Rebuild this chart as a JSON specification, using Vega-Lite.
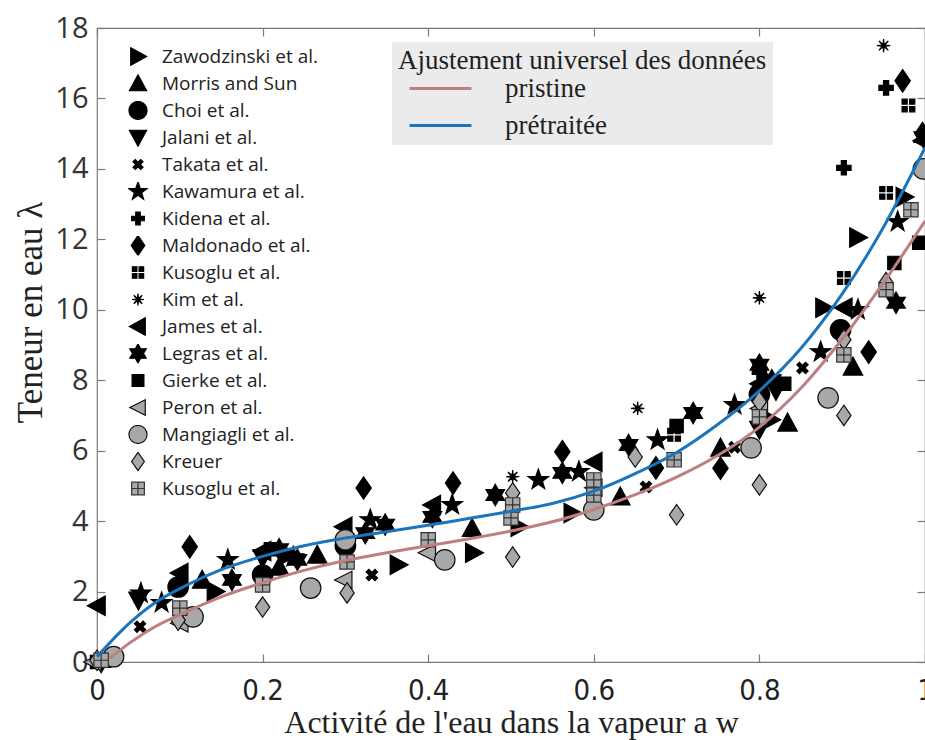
{
  "$schema": "https://vega.github.io/schema/vega-lite/v6.json",
  "width": 828,
  "height": 634,
  "autosize": "none",
  "padding": {"left": 97, "top": 28, "right": 0, "bottom": 78},
  "background": "white",
  "config": {
    "view": {"stroke": "#7a7a7a", "strokeWidth": 1.2},
    "axis": {"grid": false, "domain": false, "tickColor": "#7a7a7a", "tickWidth": 1.2, "tickSize": -8, "labelColor": "#222", "titleColor": "#222", "titleFontWeight": "normal", "labelFlush": false}
  },
  "datasets": {
    "pts": [
      {"series":"Zawodzinski et al.","aw":0.143,"lambda":2.0},{"series":"Zawodzinski et al.","aw":0.364,"lambda":2.76},{"series":"Zawodzinski et al.","aw":0.455,"lambda":3.1},{"series":"Zawodzinski et al.","aw":0.51,"lambda":3.84},{"series":"Zawodzinski et al.","aw":0.574,"lambda":4.23},{"series":"Zawodzinski et al.","aw":0.814,"lambda":6.88},{"series":"Zawodzinski et al.","aw":0.878,"lambda":10.06},{"series":"Zawodzinski et al.","aw":0.919,"lambda":12.05},{"series":"Zawodzinski et al.","aw":0.975,"lambda":13.2},{"series":"Zawodzinski et al.","aw":0.232,"lambda":3.05},
      {"series":"Morris and Sun","aw":0.127,"lambda":2.33},{"series":"Morris and Sun","aw":0.22,"lambda":2.7},{"series":"Morris and Sun","aw":0.266,"lambda":3.04},{"series":"Morris and Sun","aw":0.453,"lambda":3.8},{"series":"Morris and Sun","aw":0.632,"lambda":4.69},{"series":"Morris and Sun","aw":0.753,"lambda":6.08},{"series":"Morris and Sun","aw":0.834,"lambda":6.79},{"series":"Morris and Sun","aw":0.913,"lambda":8.38},
      {"series":"Choi et al.","aw":0.098,"lambda":2.13},{"series":"Choi et al.","aw":0.2,"lambda":2.47},{"series":"Choi et al.","aw":0.3,"lambda":3.3},{"series":"Choi et al.","aw":0.8,"lambda":7.6},{"series":"Choi et al.","aw":0.898,"lambda":9.43},
      {"series":"Jalani et al.","aw":0.05,"lambda":1.75},{"series":"Jalani et al.","aw":0.2,"lambda":2.95},{"series":"Jalani et al.","aw":0.8,"lambda":6.6},{"series":"Jalani et al.","aw":0.82,"lambda":7.7},
      {"series":"Takata et al.","aw":0.052,"lambda":1.0},{"series":"Takata et al.","aw":0.332,"lambda":2.47},{"series":"Takata et al.","aw":0.663,"lambda":4.97},{"series":"Takata et al.","aw":0.77,"lambda":6.1},{"series":"Takata et al.","aw":0.852,"lambda":8.35},
      {"series":"Kawamura et al.","aw":0.053,"lambda":1.95},{"series":"Kawamura et al.","aw":0.078,"lambda":1.68},{"series":"Kawamura et al.","aw":0.158,"lambda":2.9},{"series":"Kawamura et al.","aw":0.237,"lambda":2.98},{"series":"Kawamura et al.","aw":0.33,"lambda":4.03},{"series":"Kawamura et al.","aw":0.429,"lambda":4.46},{"series":"Kawamura et al.","aw":0.533,"lambda":5.17},{"series":"Kawamura et al.","aw":0.582,"lambda":5.4},{"series":"Kawamura et al.","aw":0.677,"lambda":6.3},{"series":"Kawamura et al.","aw":0.77,"lambda":7.3},{"series":"Kawamura et al.","aw":0.874,"lambda":8.8},{"series":"Kawamura et al.","aw":0.919,"lambda":10.0},{"series":"Kawamura et al.","aw":0.967,"lambda":12.5},
      {"series":"Kidena et al.","aw":0.8,"lambda":8.24},{"series":"Kidena et al.","aw":0.902,"lambda":14.03},{"series":"Kidena et al.","aw":0.953,"lambda":16.3},
      {"series":"Maldonado et al.","aw":0.112,"lambda":3.27},{"series":"Maldonado et al.","aw":0.322,"lambda":4.94},{"series":"Maldonado et al.","aw":0.43,"lambda":5.08},{"series":"Maldonado et al.","aw":0.562,"lambda":5.97},{"series":"Maldonado et al.","aw":0.675,"lambda":5.51},{"series":"Maldonado et al.","aw":0.753,"lambda":5.5},{"series":"Maldonado et al.","aw":0.932,"lambda":8.8},{"series":"Maldonado et al.","aw":0.973,"lambda":16.5},{"series":"Maldonado et al.","aw":0.997,"lambda":15.0},
      {"series":"Kusoglu et al.","aw":0.697,"lambda":6.45},{"series":"Kusoglu et al.","aw":0.8,"lambda":8.4},{"series":"Kusoglu et al.","aw":0.902,"lambda":10.9},{"series":"Kusoglu et al.","aw":0.953,"lambda":13.32},{"series":"Kusoglu et al.","aw":0.98,"lambda":15.8},
      {"series":"Kim et al.","aw":0.502,"lambda":5.26},{"series":"Kim et al.","aw":0.653,"lambda":7.2},{"series":"Kim et al.","aw":0.8,"lambda":10.34},{"series":"Kim et al.","aw":0.95,"lambda":17.5},
      {"series":"James et al.","aw":0.0,"lambda":1.6},{"series":"James et al.","aw":0.1,"lambda":2.53},{"series":"James et al.","aw":0.2,"lambda":3.15},{"series":"James et al.","aw":0.298,"lambda":3.84},{"series":"James et al.","aw":0.405,"lambda":4.46},{"series":"James et al.","aw":0.6,"lambda":5.68},{"series":"James et al.","aw":0.8,"lambda":7.9},{"series":"James et al.","aw":0.902,"lambda":10.06},{"series":"James et al.","aw":0.997,"lambda":14.8},
      {"series":"Legras et al.","aw":0.005,"lambda":0.0},{"series":"Legras et al.","aw":0.163,"lambda":2.33},{"series":"Legras et al.","aw":0.22,"lambda":3.2},{"series":"Legras et al.","aw":0.242,"lambda":2.9},{"series":"Legras et al.","aw":0.324,"lambda":3.66},{"series":"Legras et al.","aw":0.348,"lambda":3.9},{"series":"Legras et al.","aw":0.405,"lambda":4.12},{"series":"Legras et al.","aw":0.481,"lambda":4.74},{"series":"Legras et al.","aw":0.562,"lambda":5.37},{"series":"Legras et al.","aw":0.642,"lambda":6.16},{"series":"Legras et al.","aw":0.72,"lambda":7.07},{"series":"Legras et al.","aw":0.8,"lambda":8.44},{"series":"Legras et al.","aw":0.815,"lambda":8.0},{"series":"Legras et al.","aw":0.965,"lambda":10.2},{"series":"Legras et al.","aw":0.998,"lambda":14.9},
      {"series":"Gierke et al.","aw":0.0,"lambda":0.0},{"series":"Gierke et al.","aw":0.21,"lambda":3.2},{"series":"Gierke et al.","aw":0.7,"lambda":6.7},{"series":"Gierke et al.","aw":0.83,"lambda":7.9},{"series":"Gierke et al.","aw":0.963,"lambda":11.33},{"series":"Gierke et al.","aw":0.993,"lambda":11.9},
      {"series":"Peron et al.","aw":-0.005,"lambda":0.0},{"series":"Peron et al.","aw":0.1,"lambda":1.1},{"series":"Peron et al.","aw":0.298,"lambda":2.33},{"series":"Peron et al.","aw":0.399,"lambda":3.1},{"series":"Peron et al.","aw":0.6,"lambda":4.95},{"series":"Peron et al.","aw":0.8,"lambda":7.2},
      {"series":"Mangiagli et al.","aw":0.02,"lambda":0.15},{"series":"Mangiagli et al.","aw":0.116,"lambda":1.28},{"series":"Mangiagli et al.","aw":0.258,"lambda":2.1},{"series":"Mangiagli et al.","aw":0.3,"lambda":3.47},{"series":"Mangiagli et al.","aw":0.42,"lambda":2.9},{"series":"Mangiagli et al.","aw":0.6,"lambda":4.32},{"series":"Mangiagli et al.","aw":0.79,"lambda":6.08},{"series":"Mangiagli et al.","aw":0.883,"lambda":7.5},{"series":"Mangiagli et al.","aw":0.998,"lambda":14.0},
      {"series":"Kreuer","aw":0.0,"lambda":0.05},{"series":"Kreuer","aw":0.098,"lambda":1.19},{"series":"Kreuer","aw":0.2,"lambda":1.56},{"series":"Kreuer","aw":0.302,"lambda":1.96},{"series":"Kreuer","aw":0.502,"lambda":2.98},{"series":"Kreuer","aw":0.502,"lambda":4.8},{"series":"Kreuer","aw":0.65,"lambda":5.82},{"series":"Kreuer","aw":0.7,"lambda":4.18},{"series":"Kreuer","aw":0.8,"lambda":5.03},{"series":"Kreuer","aw":0.8,"lambda":7.39},{"series":"Kreuer","aw":0.902,"lambda":7.0},{"series":"Kreuer","aw":0.902,"lambda":9.15},{"series":"Kreuer","aw":0.953,"lambda":10.77},
      {"series":"Kusoglu et al. (2)","aw":0.005,"lambda":0.05},{"series":"Kusoglu et al. (2)","aw":0.1,"lambda":1.53},{"series":"Kusoglu et al. (2)","aw":0.2,"lambda":2.19},{"series":"Kusoglu et al. (2)","aw":0.302,"lambda":2.84},{"series":"Kusoglu et al. (2)","aw":0.4,"lambda":3.47},{"series":"Kusoglu et al. (2)","aw":0.5,"lambda":4.09},{"series":"Kusoglu et al. (2)","aw":0.502,"lambda":4.46},{"series":"Kusoglu et al. (2)","aw":0.6,"lambda":4.74},{"series":"Kusoglu et al. (2)","aw":0.6,"lambda":5.17},{"series":"Kusoglu et al. (2)","aw":0.697,"lambda":5.74},{"series":"Kusoglu et al. (2)","aw":0.8,"lambda":6.96},{"series":"Kusoglu et al. (2)","aw":0.902,"lambda":8.72},{"series":"Kusoglu et al. (2)","aw":0.953,"lambda":10.57},{"series":"Kusoglu et al. (2)","aw":0.983,"lambda":12.84}
    ],
    "fits": [
      {"fit":"pristine","aw":0.015,"lambda":0.1},{"fit":"pristine","aw":0.04,"lambda":0.55},{"fit":"pristine","aw":0.07,"lambda":1.0},{"fit":"pristine","aw":0.11,"lambda":1.45},{"fit":"pristine","aw":0.15,"lambda":1.85},{"fit":"pristine","aw":0.2,"lambda":2.25},{"fit":"pristine","aw":0.25,"lambda":2.6},{"fit":"pristine","aw":0.3,"lambda":2.88},{"fit":"pristine","aw":0.35,"lambda":3.1},{"fit":"pristine","aw":0.4,"lambda":3.3},{"fit":"pristine","aw":0.45,"lambda":3.5},{"fit":"pristine","aw":0.5,"lambda":3.72},{"fit":"pristine","aw":0.55,"lambda":3.98},{"fit":"pristine","aw":0.6,"lambda":4.33},{"fit":"pristine","aw":0.65,"lambda":4.75},{"fit":"pristine","aw":0.7,"lambda":5.25},{"fit":"pristine","aw":0.75,"lambda":5.87},{"fit":"pristine","aw":0.8,"lambda":6.67},{"fit":"pristine","aw":0.85,"lambda":7.77},{"fit":"pristine","aw":0.9,"lambda":9.17},{"fit":"pristine","aw":0.95,"lambda":10.77},{"fit":"pristine","aw":1.0,"lambda":12.52},
      {"fit":"prétraitée","aw":0.0,"lambda":0.15},{"fit":"prétraitée","aw":0.03,"lambda":0.9},{"fit":"prétraitée","aw":0.07,"lambda":1.68},{"fit":"prétraitée","aw":0.11,"lambda":2.2},{"fit":"prétraitée","aw":0.15,"lambda":2.62},{"fit":"prétraitée","aw":0.2,"lambda":3.0},{"fit":"prétraitée","aw":0.25,"lambda":3.3},{"fit":"prétraitée","aw":0.3,"lambda":3.52},{"fit":"prétraitée","aw":0.35,"lambda":3.7},{"fit":"prétraitée","aw":0.4,"lambda":3.88},{"fit":"prétraitée","aw":0.45,"lambda":4.08},{"fit":"prétraitée","aw":0.5,"lambda":4.28},{"fit":"prétraitée","aw":0.55,"lambda":4.5},{"fit":"prétraitée","aw":0.6,"lambda":4.85},{"fit":"prétraitée","aw":0.65,"lambda":5.35},{"fit":"prétraitée","aw":0.7,"lambda":5.95},{"fit":"prétraitée","aw":0.75,"lambda":6.75},{"fit":"prétraitée","aw":0.8,"lambda":7.7},{"fit":"prétraitée","aw":0.85,"lambda":8.9},{"fit":"prétraitée","aw":0.9,"lambda":10.45},{"fit":"prétraitée","aw":0.95,"lambda":12.35},{"fit":"prétraitée","aw":1.0,"lambda":14.6}
    ]
  },
  "layer": [
    {
      "data": {"name": "pts"},
      "mark": {"type": "point", "filled": true, "size": 420, "strokeWidth": 1.2, "opacity": 1},
      "encoding": {
        "x": {"field": "aw", "type": "quantitative", "scale": {"domain": [0, 1], "nice": false, "zero": false},
          "axis": {"orient": "bottom", "values": [0, 0.2, 0.4, 0.6, 0.8, 1], "format": "~g", "labelFont": "Liberation Sans Narrow, DejaVu Sans Condensed, sans-serif", "labelFontSize": 29, "labelPadding": 22,
            "title": "Activité de l'eau dans la vapeur a w", "titleFont": "Liberation Serif", "titleFontSize": 32, "titlePadding": 2}},
        "y": {"field": "lambda", "type": "quantitative", "scale": {"domain": [0, 18], "nice": false},
          "axis": {"orient": "left", "values": [0, 2, 4, 6, 8, 10, 12, 14, 16, 18], "format": "d", "labelFont": "Open Sans", "labelFontSize": 29, "labelColor": "#333", "labelPadding": 17,
            "title": "Teneur en eau λ", "titleFont": "Liberation Serif", "titleFontSize": 35, "titlePadding": 6, "titleY": 284}},
        "shape": {"field": "series", "type": "nominal",
          "scale": {
            "domain": ["Zawodzinski et al.", "Morris and Sun", "Choi et al.", "Jalani et al.", "Takata et al.", "Kawamura et al.", "Kidena et al.", "Maldonado et al.", "Kusoglu et al.", "Kim et al.", "James et al.", "Legras et al.", "Gierke et al.", "Peron et al.", "Mangiagli et al.", "Kreuer", "Kusoglu et al. (2)"],
            "range": [
              "M-0.8,-0.95L0.95,0L-0.8,0.95Z",
              "M0,-0.95L0.95,0.8L-0.95,0.8Z",
              "circle",
              "M0,0.95L0.95,-0.8L-0.95,-0.8Z",
              "M-0.55,-0.3L-0.3,-0.55L0,-0.25L0.3,-0.55L0.55,-0.3L0.25,0L0.55,0.3L0.3,0.55L0,0.25L-0.3,0.55L-0.55,0.3L-0.25,0Z",
              "M0,-1.05L0.25,-0.34L1,-0.32L0.4,0.13L0.62,0.85L0,0.42L-0.62,0.85L-0.4,0.13L-1,-0.32L-0.25,-0.34Z",
              "M-0.25,-0.7H0.25V-0.25H0.7V0.25H0.25V0.7H-0.25V0.25H-0.7V-0.25H-0.25Z",
              "M0,-1.1L0.75,0L0,1.1L-0.75,0Z",
              "M-0.62,-0.62H-0.12V-0.12H-0.62ZM0.12,-0.62H0.62V-0.12H0.12ZM-0.62,0.12H-0.12V0.62H-0.62ZM0.12,0.12H0.62V0.62H0.12Z",
              "M0.65,0L0.12,0.05L0.46,0.46L0.05,0.12L0,0.65L-0.05,0.12L-0.46,0.46L-0.12,0.05L-0.65,0L-0.12,-0.05L-0.46,-0.46L-0.05,-0.12L0,-0.65L0.05,-0.12L0.46,-0.46L0.12,-0.05Z",
              "M0.8,-0.95L-0.95,0L0.8,0.95Z",
              "M0,-1.05L0.3,-0.52L0.91,-0.52L0.6,0L0.91,0.52L0.3,0.52L0,1.05L-0.3,0.52L-0.91,0.52L-0.6,0L-0.91,-0.52L-0.3,-0.52Z",
              "M-0.65,-0.65H0.65V0.65H-0.65Z",
              "M0.8,-0.85L-0.9,0L0.8,0.85Z",
              "circle",
              "M0,-1L0.7,0L0,1L-0.7,0Z",
              "M-0.7,-0.7H0.7V0.7H-0.7ZM0,-0.7V0.7M-0.7,0H0.7"
            ]},
          "legend": {"orient": "none", "legendX": 31, "legendY": 19, "title": null, "labelFont": "Open Sans", "labelFontSize": 19, "labelColor": "#222", "labelOffset": 14, "rowPadding": 7, "symbolSize": 330, "symbolStrokeWidth": 1.2, "clipHeight": 19, "labelExpr": "replace(datum.label, ' (2)', '')", "labelLimit": 300}},
        "fill": {"field": "series", "type": "nominal",
          "scale": {
            "domain": ["Zawodzinski et al.", "Morris and Sun", "Choi et al.", "Jalani et al.", "Takata et al.", "Kawamura et al.", "Kidena et al.", "Maldonado et al.", "Kusoglu et al.", "Kim et al.", "James et al.", "Legras et al.", "Gierke et al.", "Peron et al.", "Mangiagli et al.", "Kreuer", "Kusoglu et al. (2)"],
            "range": ["#000", "#000", "#000", "#000", "#000", "#000", "#000", "#000", "#000", "#000", "#000", "#000", "#000", "#a8a8a8", "#a8a8a8", "#a8a8a8", "#a8a8a8"]}},
        "stroke": {"field": "series", "type": "nominal",
          "scale": {
            "domain": ["Zawodzinski et al.", "Morris and Sun", "Choi et al.", "Jalani et al.", "Takata et al.", "Kawamura et al.", "Kidena et al.", "Maldonado et al.", "Kusoglu et al.", "Kim et al.", "James et al.", "Legras et al.", "Gierke et al.", "Peron et al.", "Mangiagli et al.", "Kreuer", "Kusoglu et al. (2)"],
            "range": ["#000", "#000", "#000", "#000", "#000", "#000", "#000", "#000", "#000", "#000", "#000", "#000", "#000", "#111", "#111", "#111", "#333"]}}
      }
    },
    {
      "data": {"name": "fits"},
      "mark": {"type": "line", "strokeWidth": 3, "interpolate": "monotone"},
      "encoding": {
        "x": {"field": "aw", "type": "quantitative", "axis": {"orient": "top", "values": [0, 0.2, 0.4, 0.6, 0.8, 1], "labels": false, "title": null}},
        "y": {"field": "lambda", "type": "quantitative", "axis": {"orient": "right", "values": [0, 2, 4, 6, 8, 10, 12, 14, 16, 18], "labels": false, "title": null}},
        "color": {"field": "fit", "type": "nominal",
          "scale": {"domain": ["pristine", "prétraitée"], "range": ["#bd7f7f", "#1b75bc"]},
          "legend": {"orient": "none", "legendX": 295, "legendY": 14, "fillColor": "#ebebeb", "padding": 6, "title": "Ajustement universel des données", "titleFont": "Liberation Serif", "titleFontSize": 27, "titleFontWeight": "normal", "titleColor": "#222", "titlePadding": 0, "titleLimit": 500, "labelFont": "Liberation Serif", "labelFontSize": 27, "labelColor": "#222", "symbolType": "stroke", "symbolSize": 3844, "symbolStrokeWidth": 3, "symbolOffset": 10, "labelOffset": 32, "rowPadding": 9, "clipHeight": 27}}
      }
    }
  ],
  "resolve": {"axis": {"x": "independent", "y": "independent"}}
}
